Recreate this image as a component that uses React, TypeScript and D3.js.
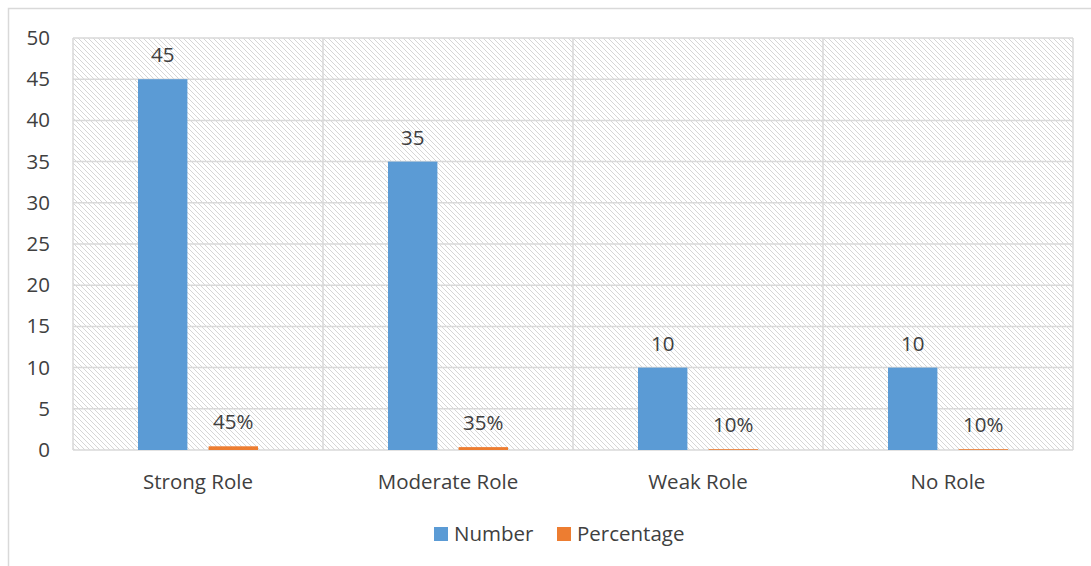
import {scaleBand, scaleLinear} from "d3";

const CATEGORIES = ["Strong Role", "Moderate Role", "Weak Role", "No Role"];
const SERIES = ["Number", "Percentage"];
const NUMBER_VALUES = [45, 35, 10, 10];
const PERCENT_VALUES = [0.45, 0.35, 0.1, 0.1];
const Y_TICKS = [0, 5, 10, 15, 20, 25, 30, 35, 40, 45, 50];
const COLORS = ["#5B9BD5", "#ED7D31"];

const FONT = "'Open Sans', 'Noto Sans', sans-serif";
const TEXT = "#404040";
const GRID = "#D9D9D9";
const FS = 20.5;

export default function App() {
  const width = 1091;
  const height = 566;
  const plot = {left: 73, right: 1073, top: 38, bottom: 450};

  const x = scaleBand<string>().domain(CATEGORIES).range([plot.left, plot.right]);
  const y = scaleLinear().domain([0, 50]).range([plot.bottom, plot.top]);
  const inner = scaleBand<string>().domain(SERIES).range([65, 185]).paddingInner(0.3);

  const bars = CATEGORIES.flatMap((cat, i) => [
    {cat, series: "Number", value: NUMBER_VALUES[i], label: String(NUMBER_VALUES[i]), color: COLORS[0]},
    {cat, series: "Percentage", value: PERCENT_VALUES[i], label: `${Math.round(PERCENT_VALUES[i] * 100)}%`, color: COLORS[1]}
  ]);

  return (
    <div style={{position: "fixed", left: 0, top: 0, width, height, background: "#fff"}}>
      <svg width={width} height={height} style={{display: "block"}} fontFamily={FONT}>
        <defs>
          <pattern id="hatch" patternUnits="userSpaceOnUse" width={5} height={5}>
            <path d="M0,0 L5,5 M-1,4 L1,6 M4,-1 L6,1" stroke="#D6D6D6" strokeWidth={1} />
          </pattern>
        </defs>

        <rect x={8.5} y={8.5} width={width + 10} height={height + 10} fill="#fff" stroke={GRID} strokeWidth={1.5} />

        <rect
          x={plot.left}
          y={plot.top}
          width={plot.right - plot.left}
          height={plot.bottom - plot.top}
          fill="url(#hatch)"
        />

        {Y_TICKS.map((tick) => (
          <g key={`y-${tick}`}>
            <line x1={plot.left} x2={plot.right} y1={y(tick)} y2={y(tick)} stroke={GRID} strokeWidth={1.5} />
            <text x={50} y={y(tick) + 7} textAnchor="end" fontSize={FS} fill={TEXT}>
              {tick}
            </text>
          </g>
        ))}

        {[...CATEGORIES.map((c) => x(c) ?? 0), plot.right].map((pos, i) => (
          <line key={`v-${i}`} x1={pos} x2={pos} y1={plot.top} y2={plot.bottom} stroke={GRID} strokeWidth={1.5} />
        ))}

        {bars.map((bar) => {
          const bx = (x(bar.cat) ?? 0) + (inner(bar.series) ?? 0);
          const bw = inner.bandwidth();
          const top = y(bar.value);
          return (
            <g key={`${bar.cat}-${bar.series}`}>
              <rect x={bx} y={top} width={bw} height={plot.bottom - top} fill={bar.color} />
              <text x={bx + bw / 2} y={top - 17} textAnchor="middle" fontSize={FS} fill={TEXT}>
                {bar.label}
              </text>
            </g>
          );
        })}

        {CATEGORIES.map((cat) => (
          <text
            key={`c-${cat}`}
            x={(x(cat) ?? 0) + x.bandwidth() / 2}
            y={489}
            textAnchor="middle"
            fontSize={FS}
            fill={TEXT}
          >
            {cat}
          </text>
        ))}

        <g>
          <rect x={434} y={527} width={14} height={14} fill={COLORS[0]} />
          <text x={454} y={541} fontSize={FS} fill={TEXT}>
            Number
          </text>
          <rect x={557} y={527} width={14} height={14} fill={COLORS[1]} />
          <text x={577} y={541} fontSize={FS} fill={TEXT}>
            Percentage
          </text>
        </g>
      </svg>
    </div>
  );
}
